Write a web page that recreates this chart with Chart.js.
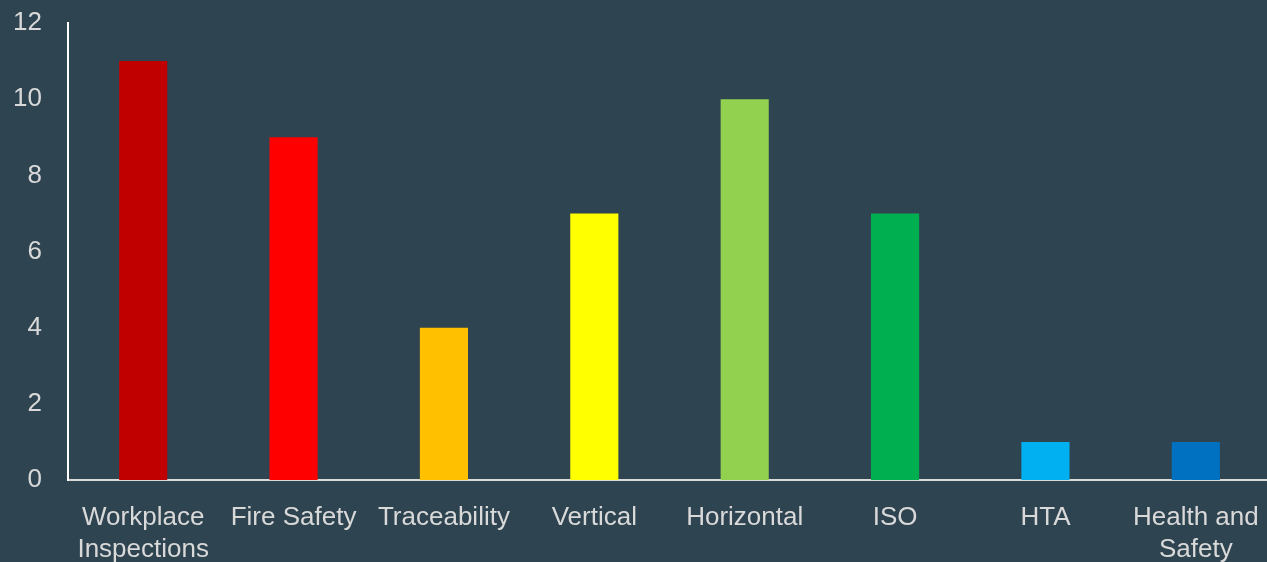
<!DOCTYPE html>
<html>
<head>
<meta charset="utf-8">
<script src="https://cdn.jsdelivr.net/npm/chart.js@4"></script>
<style>
  html, body { margin: 0; padding: 0; background: #2E4450; overflow: hidden; }
  #wrap { width: 1271px; height: 562px; }
</style>
</head>
<body>
<div id="wrap"><canvas id="bar-chart"></canvas></div>
<script>
var categories = [['Workplace', 'Inspections'], 'Fire Safety', 'Traceability', 'Vertical', 'Horizontal', 'ISO', 'HTA', ['Health and', 'Safety']];
var counts = [11, 9, 4, 7, 10, 7, 1, 1];
var barColors = ['#C00000', '#FF0000', '#FFC000', '#FFFF00', '#92D050', '#00B050', '#00B0F0', '#0070C0'];

var ctx2 = document.getElementById('bar-chart');

const data = {
  labels: categories,
  datasets: [{
    data: counts,
    backgroundColor: barColors,
    borderWidth: 0,
    barPercentage: 0.32,
    categoryPercentage: 1
  }]
};

const config = {
  type: 'bar',
  data: data,
  options: {
    responsive: true,
    maintainAspectRatio: false,
    animation: false,
    layout: { padding: { top: 23, right: 0, left: 0, bottom: 0 } },
    plugins: {
      legend: { display: false },
      tooltip: { enabled: false }
    },
    scales: {
      x: {
        grid: { display: false },
        border: { display: true, color: '#D9D9D9', width: 2 },
        ticks: {
          color: '#D9D9D9',
          font: { family: 'Liberation Sans', size: 26, lineHeight: 1.22 },
          padding: 14,
          maxRotation: 0,
          autoSkip: false
        },
        afterFit: function(scale) {
          scale.height = 82;
          scale.paddingLeft = 0;
          scale.paddingRight = 0;
        }
      },
      y: {
        min: 0,
        max: 12,
        grid: { display: false, drawTicks: false },
        border: { display: true, color: '#FFFFFF', width: 2 },
        ticks: {
          stepSize: 2,
          color: '#D9D9D9',
          font: { family: 'Liberation Sans', size: 26 },
          padding: 26
        },
        afterFit: function(scale) {
          scale.width = 68;
          scale.paddingTop = 0;
          scale.paddingBottom = 0;
        }
      }
    }
  }
};

var chart2 = new Chart(ctx2, config);
</script>
</body>
</html>
